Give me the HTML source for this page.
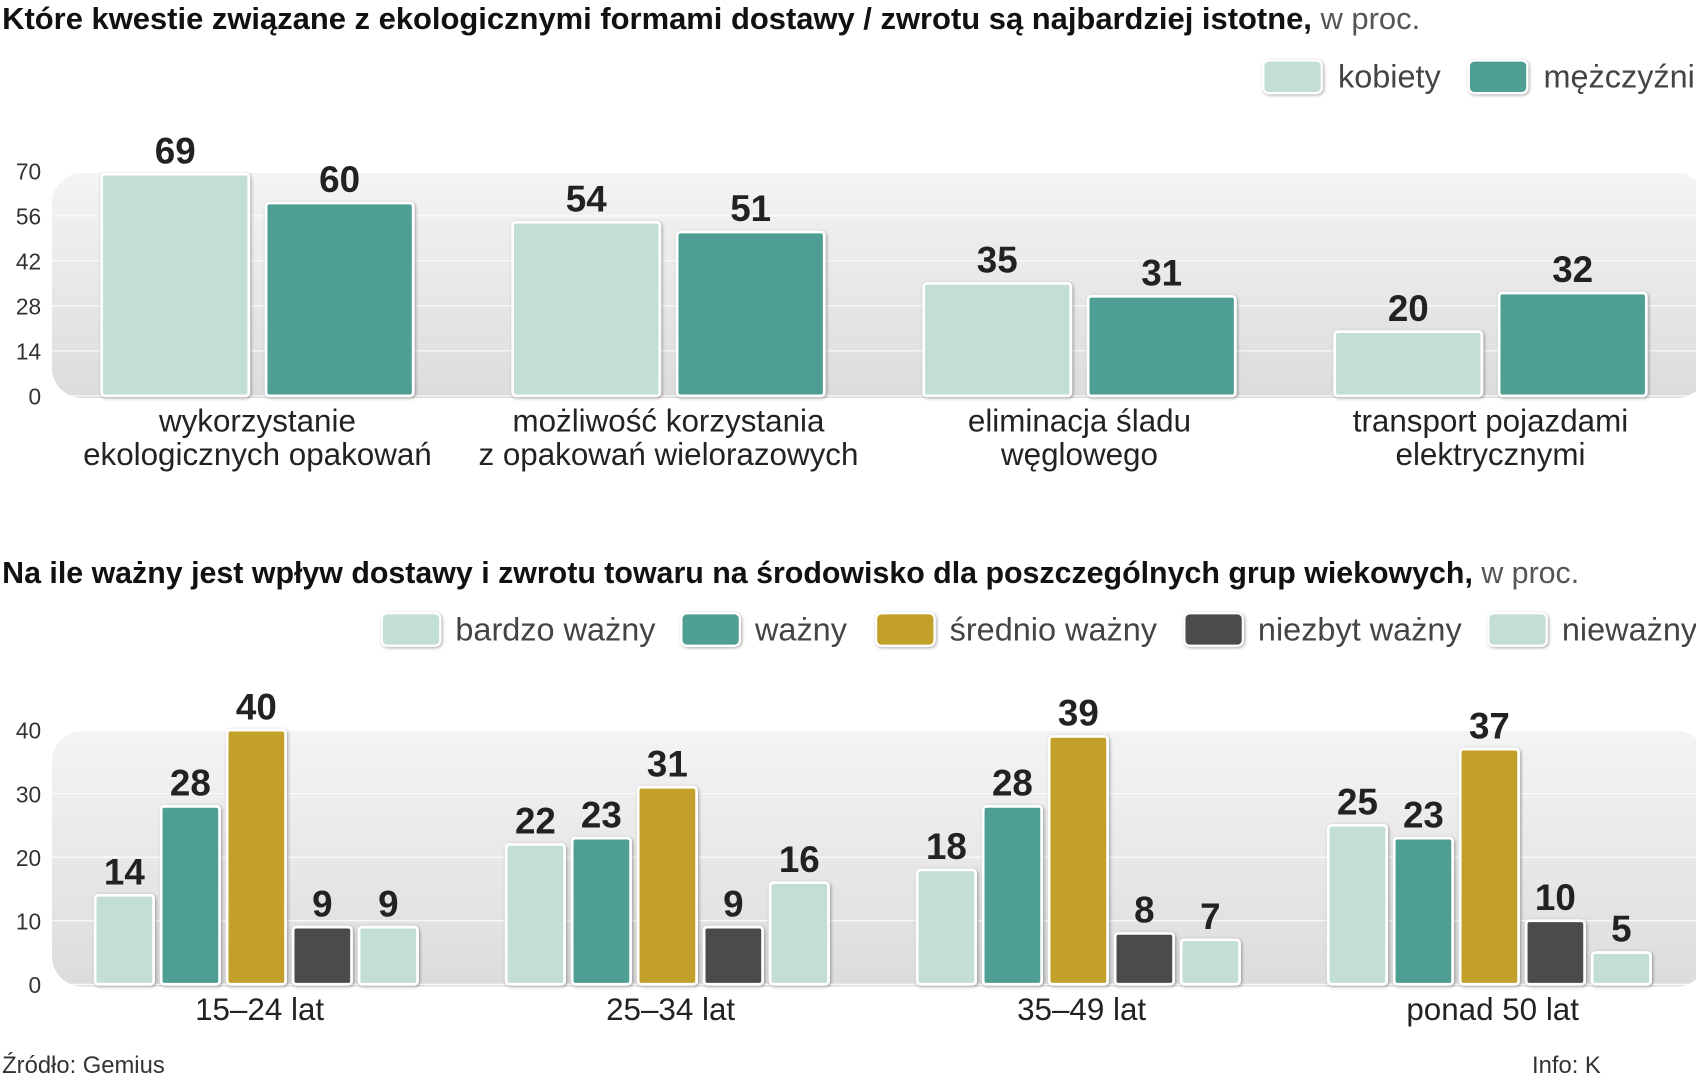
<!DOCTYPE html>
<html><head><meta charset="utf-8">
<style>
html,body{margin:0;padding:0;background:#fff;}
svg{display:block;font-family:"Liberation Sans",sans-serif;}
.v{font-family:"Liberation Sans Narrow","Liberation Sans",sans-serif;font-weight:bold;font-size:34px;fill:#222;text-anchor:middle;}
.t{font-family:"Liberation Sans Narrow","Liberation Sans",sans-serif;font-size:28px;fill:#111;}
.ax{font-size:21px;fill:#333;}
.cat{font-size:29px;fill:#222;text-anchor:middle;}
.lg{font-size:30px;fill:#444;}
</style></head>
<body>
<svg id="c" width="1696" height="1080" viewBox="0 0 1568 998.5" preserveAspectRatio="none" xmlns="http://www.w3.org/2000/svg">
<defs>
<linearGradient id="pg" x1="0" y1="0" x2="0" y2="1"><stop offset="0" stop-color="#f4f4f4"/><stop offset="1" stop-color="#dcdcdc"/></linearGradient>
<filter id="sh" x="-10%" y="-10%" width="130%" height="130%"><feDropShadow dx="1" dy="1" stdDeviation="1.5" flood-color="#000" flood-opacity="0.35"/></filter>
</defs>
<text x="2" y="27" class="t" textLength="1311" lengthAdjust="spacingAndGlyphs"><tspan font-weight="bold">Które kwestie związane z ekologicznymi formami dostawy / zwrotu są  najbardziej istotne,</tspan><tspan fill="#555"> w proc.</tspan></text>
<g id="top"></g>
<text x="2" y="539" class="t" textLength="1458" lengthAdjust="spacingAndGlyphs"><tspan font-weight="bold">Na ile ważny jest wpływ dostawy i zwrotu towaru na środowisko dla poszczególnych grup wiekowych,</tspan><tspan fill="#555"> w proc.</tspan></text>
<g id="bot"></g>
<text x="2" y="992" font-size="22" fill="#333">Źródło: Gemius</text>
<text x="1480" y="992" font-size="22" fill="#333" text-anchor="end">Info: K</text>
</svg>
<script>
const topCategories=[["wykorzystanie","ekologicznych opakowań"],["możliwość korzystania","z opakowań wielorazowych"],["eliminacja śladu","węglowego"],["transport pojazdami","elektrycznymi"]];
const topSeries=["kobiety","mężczyźni"];
const topWomen=[69,54,35,20];
const topMen=[60,51,31,32];
const topTicks=[0,14,28,42,56,70];
const botCategories=["15–24 lat","25–34 lat","35–49 lat","ponad 50 lat"];
const botSeries=["bardzo ważny","ważny","średnio ważny","niezbyt ważny","nieważny"];
const botVery=[14,22,18,25];
const botImp=[28,23,28,23];
const botMid=[40,31,39,37];
const botLow=[9,9,8,10];
const botNot=[9,16,7,5];
const botTicks=[0,10,20,30,40];

const NS="http://www.w3.org/2000/svg";
function mk(parent,tag,attrs,text){const e=document.createElementNS(NS,tag);for(const k in attrs)e.setAttribute(k,attrs[k]);if(text!==undefined)e.textContent=text;parent.appendChild(e);return e;}
const colors=["#c3ddd7","#4f9e93","#c3a02c","#4c4c4c","#c3ddd7"];

// TOP
const gTop=document.getElementById('top');
const yT=v=>366-v*(208/70);
const p1=mk(gTop,'rect',{x:48,y:160,width:1530,height:208,rx:28,fill:'url(#pg)'});


topTicks.forEach(t=>{
 const l=mk(gTop,'line',{x1:48,x2:1568,y1:yT(t),y2:yT(t),stroke:'#fff','stroke-width':1});
 
 
 const tx=mk(gTop,'text',{x:38,y:yT(t)+8,class:'ax','text-anchor':'end'},t);
 
 
});
const xT=(i,s)=>94+i*380+s*152;
[topWomen,topMen].forEach((arr,s)=>arr.forEach((v,i)=>{
 const r=mk(gTop,'rect',{x:xT(i,s),y:yT(v),width:136,height:366-yT(v),rx:3,fill:colors[s],stroke:'#fff','stroke-width':2.5,filter:'url(#sh)'});
 
 
 const t=mk(gTop,'text',{x:xT(i,s)+68,y:yT(v)-10,class:'v'},v);
 
 
}));
topCategories.forEach((c,i)=>{
 c.forEach((line,j)=>{
  const t=mk(gTop,'text',{x:238+i*380,y:399+j*31,class:'cat'},line);
  
  
 });
});
const topLegX=[1168,1358];
topSeries.forEach((s,i)=>{
 const b=mk(gTop,'rect',{x:topLegX[i],y:56,width:54,height:30,rx:5,fill:colors[i],stroke:'#fff','stroke-width':2,filter:'url(#sh)'});
 
 
 const t=mk(gTop,'text',{x:topLegX[i]+69,y:81,class:'lg'},s);
 
 
});

// BOTTOM
const gBot=document.getElementById('bot');
const yB=v=>910-v*(235/40);
const p2=mk(gBot,'rect',{x:48,y:676,width:1530,height:236,rx:28,fill:'url(#pg)'});


botTicks.forEach(t=>{
 const l=mk(gBot,'line',{x1:48,x2:1568,y1:yB(t),y2:yB(t),stroke:'#fff','stroke-width':1});
 
 
 const tx=mk(gBot,'text',{x:38,y:yB(t)+8,class:'ax','text-anchor':'end'},t);
 
 
});
const xB=(i,s)=>88+i*380+s*61;
[botVery,botImp,botMid,botLow,botNot].forEach((arr,s)=>arr.forEach((v,i)=>{
 const r=mk(gBot,'rect',{x:xB(i,s),y:yB(v),width:54,height:910-yB(v),rx:3,fill:colors[s],stroke:'#fff','stroke-width':2.5,filter:'url(#sh)'});
 
 
 const t=mk(gBot,'text',{x:xB(i,s)+27,y:yB(v)-10,class:'v'},v);
 
 
}));
botCategories.forEach((c,i)=>{
 const t=mk(gBot,'text',{x:240+i*380,y:943,class:'cat'},c);
 
 
});
const botLegX=[353,630,810,1095,1376];
botSeries.forEach((s,i)=>{
 const b=mk(gBot,'rect',{x:botLegX[i],y:567,width:54,height:30,rx:5,fill:colors[i],stroke:'#fff','stroke-width':2,filter:'url(#sh)'});
 
 
 const t=mk(gBot,'text',{x:botLegX[i]+68,y:592,class:'lg'},s);
 
 
});
</script>
</body></html>
